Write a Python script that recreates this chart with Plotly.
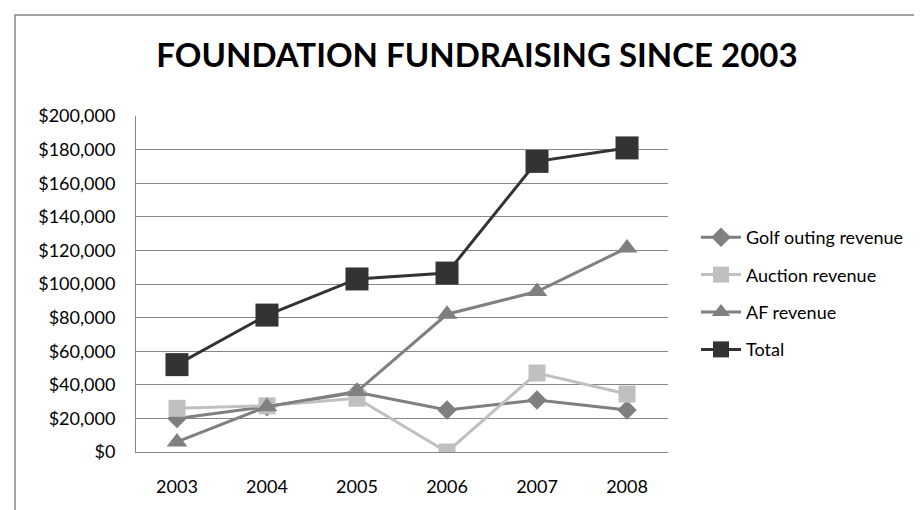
import plotly.graph_objects as go

years = ["2003", "2004", "2005", "2006", "2007", "2008"]
golf = [20000, 27000, 35500, 25000, 31000, 25000]
auction = [26000, 27500, 32000, 0, 47000, 34500]
af = [6000, 27000, 36000, 82000, 95500, 121500]
total = [52000, 81500, 103000, 106500, 173000, 181000]
y_ticks = [0, 20000, 40000, 60000, 80000, 100000, 120000, 140000, 160000, 180000, 200000]
y_tick_labels = ["$" + f"{v:,}" for v in y_ticks]

FONT = "Lato"
W, H = 922, 510
L, R, T, B = 128, 660, 108, 444

fig = go.Figure()
series = [
    ("Golf outing revenue", golf, "#7f7f7f", "diamond", 15, 3),
    ("Auction revenue", auction, "#c0c0c0", "square", 17, 3),
    ("AF revenue", af, "#808080", "triangle-up", 18, 3),
    ("Total", total, "#333333", "square", 23, 3),
]
for name, vals, col, sym, sz, lw in series:
    fig.add_trace(go.Scatter(
        x=years, y=vals, name=name, mode="lines+markers",
        line=dict(color=col, width=lw),
        marker=dict(symbol=sym, size=sz, color=col),
        legendgroup=name,
    ))

def px_x(p):
    return (p - L) / (R - L)

def px_y(p):
    return (B - p) / (B - T)

fig.add_shape(type="rect", xref="paper", yref="paper",
              x0=px_x(7), x1=px_x(940), y0=px_y(530), y1=px_y(7),
              line=dict(color="#868686", width=1.5), layer="below")

fig.update_layout(
    width=W, height=H,
    margin=dict(l=L, r=W - R, t=T, b=H - B, pad=0),
    paper_bgcolor="white", plot_bgcolor="white",
    font=dict(family=FONT, size=18, color="#000000"),
    title=dict(text="<b>FOUNDATION FUNDRAISING SINCE 2003</b>",
               x=469 / W, xanchor="center", xref="container",
               y=1 - 47 / H, yanchor="middle", yref="container",
               font=dict(family=FONT, size=33, color="#000000")),
    showlegend=True,
    legend=dict(x=px_x(688), xanchor="left", y=px_y(211), yanchor="top",
                font=dict(family=FONT, size=18, color="#000000"),
                tracegroupgap=11, itemwidth=40, bgcolor="rgba(0,0,0,0)"),
    xaxis=dict(type="category", showgrid=False, showline=True,
               linecolor="#868686", linewidth=1, ticks="",
               ticklabelstandoff=18, tickfont=dict(size=18)),
    yaxis=dict(range=[0, 200000], tickvals=y_ticks, ticktext=y_tick_labels,
               showgrid=True, gridcolor="#868686", gridwidth=1,
               showline=True, linecolor="#868686", linewidth=1,
               zeroline=False, ticks="", ticklabelstandoff=16,
               tickfont=dict(size=18)),
)

fig.write_html("out.html")
